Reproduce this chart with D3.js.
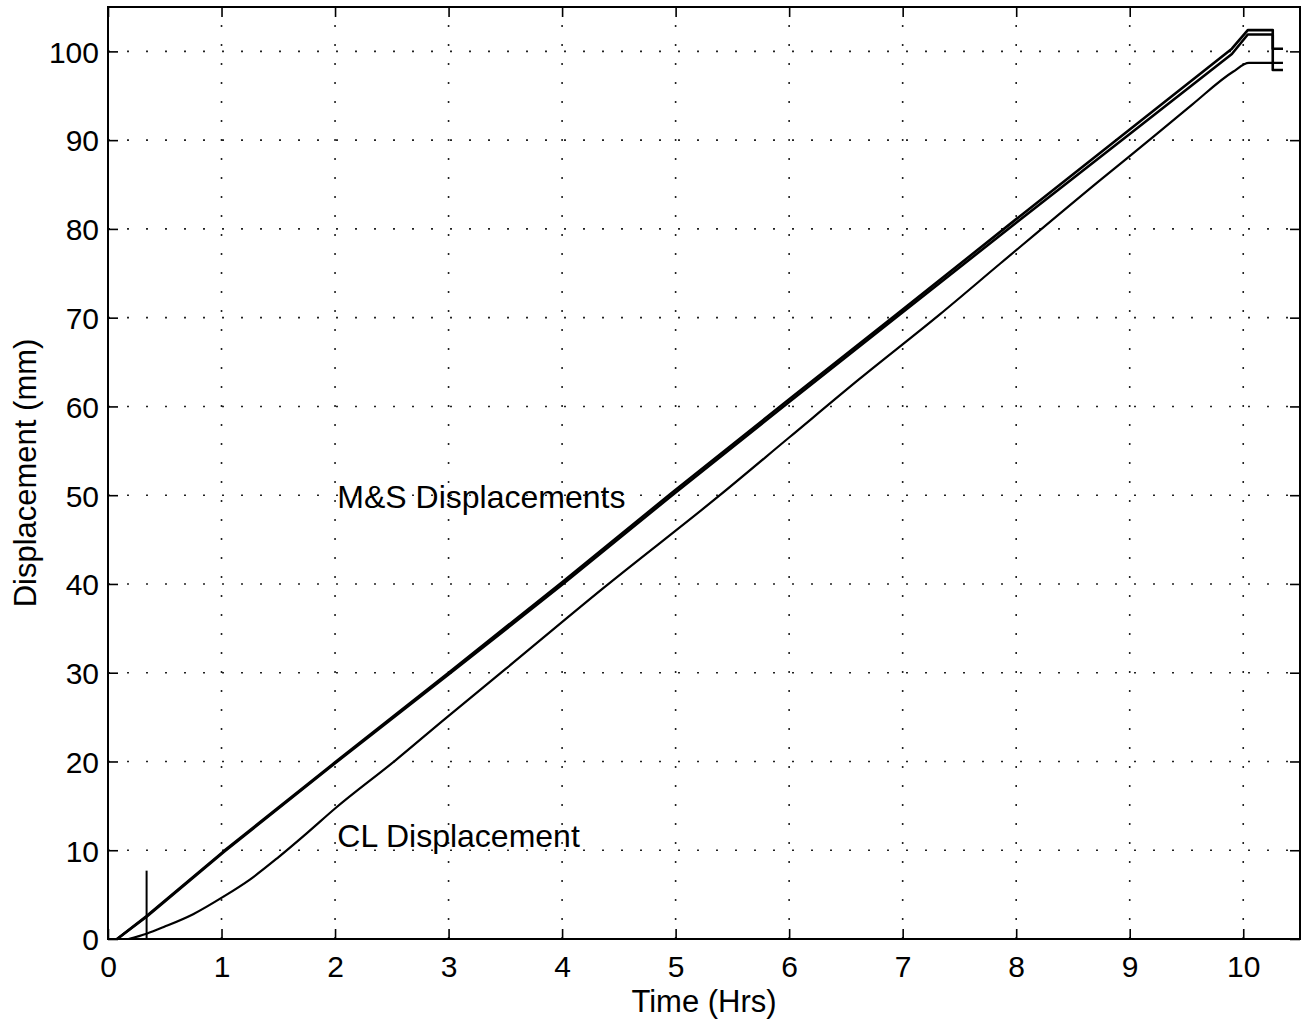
<!DOCTYPE html>
<html>
<head>
<meta charset="utf-8">
<script src="https://cdn.jsdelivr.net/npm/d3@7"></script>
<style>
  body { margin: 0; background: #fff; }
  svg text { font-family: "Liberation Sans", Arial, Helvetica, sans-serif; fill: #000; }
</style>
</head>
<body>
<div class="svg-container"></div>
<script>
// M&S displacement (two transducers, nearly on top of each other)
var msTime  = [0.08, 0.34, 1.02, 2.0, 3.0, 4.0, 4.97, 6.0, 6.95, 8.0, 9.0, 9.90, 10.04, 10.26, 10.26, 10.35];
var msUpper = [0, 2.6, 9.9, 19.9, 30.0, 40.2, 50.3, 60.8, 70.4, 81.1, 91.2, 100.3, 102.4, 102.4, 100.3, 100.3];
var msLower = [0, 2.5, 9.8, 19.8, 29.8, 39.9, 50.0, 60.5, 70.1, 80.7, 90.7, 99.7, 101.9, 101.9, 97.9, 97.9];

// CL displacement
var clTime  = [0.18, 0.34, 0.5, 0.75, 1.02, 1.25, 1.5, 1.75, 2.0, 2.53, 2.95, 3.5, 4.36, 5.39, 6.0, 6.62, 7.33, 7.86, 8.74, 9.22, 9.55, 9.91, 10.05, 10.35];
var clValue = [0, 0.6, 1.4, 2.8, 4.8, 6.7, 9.2, 11.9, 14.7, 20.1, 24.6, 30.4, 39.5, 50.0, 56.5, 63.1, 70.4, 76.1, 85.5, 90.5, 94.0, 97.7, 98.7, 98.7];

// spike at start of test
var spikeTime  = [0.34, 0.34];
var spikeValue = [0, 7.7];

var xTicks = [0, 1, 2, 3, 4, 5, 6, 7, 8, 9, 10];
var yTicks = [0, 10, 20, 30, 40, 50, 60, 70, 80, 90, 100];

var annotations = [
  {text: "M&S Displacements", t: 2.02, v: 48.6},
  {text: "CL Displacement", t: 2.02, v: 10.4}
];

var width = 1304, height = 1024;
var plotLeft = 108, plotRight = 1300, plotTop = 7, plotBottom = 939;

var x = d3.scaleLinear().domain([0, 10.5]).range([plotLeft, plotRight]);
var y = d3.scaleLinear().domain([0, 105]).range([plotBottom, plotTop]);

var svg = d3.select(".svg-container").append("svg")
  .attr("width", width)
  .attr("height", height);

// dotted grid
var grid = svg.append("g").attr("class", "grid")
  .attr("stroke", "#222")
  .attr("stroke-width", 1.6)
  .attr("stroke-dasharray", "2,17");

grid.selectAll("line.vgrid")
  .data(xTicks.filter(function(d) {return d > 0}))
  .enter().append("line")
  .attr("class", "vgrid")
  .attr("x1", function(d) {return x(d)})
  .attr("x2", function(d) {return x(d)})
  .attr("y1", plotBottom)
  .attr("y2", plotTop);

grid.selectAll("line.hgrid")
  .data(yTicks.filter(function(d) {return d > 0}))
  .enter().append("line")
  .attr("class", "hgrid")
  .attr("x1", plotLeft)
  .attr("x2", plotRight)
  .attr("y1", function(d) {return y(d)})
  .attr("y2", function(d) {return y(d)});

// axes, ticks pointing inwards on all four sides
var fontSize = 30;

function styleTicks(g) {
  g.select(".domain").remove();
  g.selectAll(".tick line").attr("stroke", "#000").attr("stroke-width", 1.6);
}

svg.append("g")
  .attr("transform", "translate(0," + plotBottom + ")")
  .call(d3.axisBottom(x).tickValues(xTicks).tickSizeInner(-10).tickSizeOuter(0))
  .call(styleTicks)
  .call(function(g) {
    g.selectAll("text").style("font-size", fontSize + "px").attr("y", 16).attr("dy", "0.72em");
  });

svg.append("g")
  .attr("transform", "translate(" + plotLeft + ",0)")
  .call(d3.axisLeft(y).tickValues(yTicks).tickSizeInner(-10).tickSizeOuter(0))
  .call(styleTicks)
  .call(function(g) {
    g.selectAll("text").style("font-size", fontSize + "px").attr("x", -9).attr("dy", "0.36em");
  });

// mirrored ticks on top and right
svg.append("g")
  .attr("transform", "translate(0," + plotTop + ")")
  .call(d3.axisTop(x).tickValues(xTicks).tickSizeInner(-10).tickSizeOuter(0).tickFormat(""))
  .call(styleTicks);

svg.append("g")
  .attr("transform", "translate(" + plotRight + ",0)")
  .call(d3.axisRight(y).tickValues(yTicks).tickSizeInner(-10).tickSizeOuter(0).tickFormat(""))
  .call(styleTicks);

svg.append("rect")
  .attr("x", plotLeft)
  .attr("y", plotTop)
  .attr("width", plotRight - plotLeft)
  .attr("height", plotBottom - plotTop)
  .attr("fill", "none")
  .attr("stroke", "#000")
  .attr("stroke-width", 2);

// data lines
var line = d3.line()
  .x(function(d) {return x(d[0])})
  .y(function(d) {return y(d[1])});

var smoothLine = d3.line()
  .curve(d3.curveMonotoneX)
  .x(function(d) {return x(d[0])})
  .y(function(d) {return y(d[1])});

function pairs(ts, vs) {
  return ts.map(function(t, i) {return [t, vs[i]]});
}

var series = [
  {name: "msUpper", data: pairs(msTime, msUpper), w: 2.6, gen: line},
  {name: "msLower", data: pairs(msTime, msLower), w: 2.6, gen: line},
  {name: "cl", data: pairs(clTime, clValue), w: 2.2, gen: smoothLine},
  {name: "spike", data: pairs(spikeTime, spikeValue), w: 2, gen: line}
];

svg.append("g").attr("class", "lines")
  .selectAll("path")
  .data(series)
  .enter().append("path")
  .attr("fill", "none")
  .attr("stroke", "#000")
  .attr("stroke-width", function(d) {return d.w})
  .attr("stroke-linejoin", "round")
  .attr("d", function(d) {return d.gen(d.data)});

// annotations
svg.selectAll("text.note")
  .data(annotations)
  .enter().append("text")
  .attr("class", "note")
  .attr("x", function(d) {return x(d.t)})
  .attr("y", function(d) {return y(d.v)})
  .style("font-size", "32px")
  .text(function(d) {return d.text});

// axis labels
svg.append("text")
  .attr("x", (plotLeft + plotRight) / 2)
  .attr("y", 1012)
  .attr("text-anchor", "middle")
  .style("font-size", "31px")
  .text("Time (Hrs)");

svg.append("text")
  .attr("transform", "translate(36," + ((plotTop + plotBottom) / 2) + ") rotate(-90)")
  .attr("text-anchor", "middle")
  .style("font-size", "31px")
  .text("Displacement (mm)");
</script>
</body>
</html>
